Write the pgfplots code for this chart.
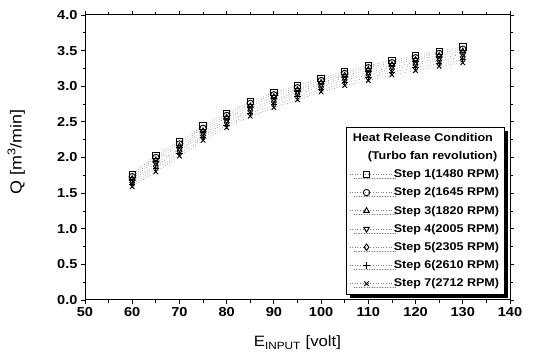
\documentclass[border=0pt]{standalone}
\usepackage{pgfplots}
\pgfplotsset{compat=1.18}
\usepackage{fontspec}
\setmainfont{Liberation Sans}[FakeStretch=1.12]
\usetikzlibrary{shadows}
\begin{document}
\begin{tikzpicture}
\useasboundingbox (-85pt,-58pt) rectangle (452pt,300pt);
\begin{axis}[
  scale only axis,
  width=425pt, height=285pt,
  xmin=50, xmax=140, ymin=0, ymax=4,
  xtick={50,60,...,140},
  ytick={0,0.5,...,4},
  minor x tick num=1,
  minor y tick num=1,
  tick align=outside,
  major tick length=4pt,
  minor tick length=2.5pt,
  tick style={black, line width=0.8pt},
  axis line style={line width=1pt},
  /pgf/number format/assume math mode=true,
  /pgf/number format/fixed,
  /pgf/number format/fixed zerofill,
  yticklabel style={/pgf/number format/precision=1},
  xticklabel style={/pgf/number format/precision=0},
  ticklabel style={font=\fontsize{13}{15}\selectfont\bfseries},
  xlabel={E\textsubscript{INPUT} [volt]},
  ylabel={Q [m\textsuperscript{3}/min]},
  every axis y label/.style={at={(axis description cs:-0.162,0.52)},rotate=90,anchor=center,font=\fontsize{16}{18}\selectfont},
  every axis x label/.style={at={(axis description cs:0.5,-0.151)},anchor=center,font=\fontsize{15}{18}\selectfont},
  legend cell align=left,
  legend style={at={(axis description cs:0.987,0.018)}, anchor=south east,
    font=\fontsize{11.2}{13}\selectfont\bfseries,
    draw=black, line width=0.8pt, fill=white,
    drop shadow={shadow xshift=4pt, shadow yshift=-4pt, fill=black, opacity=1},
    row sep=4.6pt, inner xsep=3pt, inner ysep=4pt},
  every axis plot/.append style={gray, dotted, line width=0.6pt, mark size=3.2pt, mark options={solid, line width=0.9pt, black},
    legend image code/.code={%
    \draw[mark repeat=2,mark phase=2,#1] plot coordinates {(0pt,0pt) (17pt,0pt) (42pt,0pt)};}},
]
\addlegendimage{empty legend}
\addlegendentry{\hspace*{-41pt}Heat Release Condition}
\addlegendimage{empty legend}
\addlegendentry{\hspace*{-26pt}(Turbo fan revolution)}

\addplot[mark=square] coordinates {(60,1.76) (65,2.03) (70,2.22) (75,2.44) (80,2.62) (85,2.79) (90,2.91) (95,3.01) (100,3.11) (105,3.21) (110,3.29) (115,3.36) (120,3.43) (125,3.49) (130,3.55)};
\addlegendentry{Step 1(1480 RPM)}
\addplot[mark=o] coordinates {(60,1.73) (65,2.00) (70,2.19) (75,2.41) (80,2.59) (85,2.76) (90,2.88) (95,2.98) (100,3.08) (105,3.18) (110,3.26) (115,3.33) (120,3.40) (125,3.46) (130,3.52)};
\addlegendentry{Step 2(1645 RPM)}
\addplot[mark=triangle] coordinates {(60,1.70) (65,1.96) (70,2.16) (75,2.37) (80,2.56) (85,2.72) (90,2.85) (95,2.95) (100,3.05) (105,3.15) (110,3.23) (115,3.30) (120,3.37) (125,3.43) (130,3.49)};
\addlegendentry{Step 3(1820 RPM)}
\addplot[mark=triangle, mark options={solid, line width=0.9pt, black, rotate=180}] coordinates {(60,1.67) (65,1.92) (70,2.12) (75,2.34) (80,2.52) (85,2.69) (90,2.81) (95,2.92) (100,3.02) (105,3.12) (110,3.19) (115,3.27) (120,3.33) (125,3.39) (130,3.45)};
\addlegendentry{Step 4(2005 RPM)}
\addplot[mark=diamond] coordinates {(60,1.65) (65,1.88) (70,2.09) (75,2.31) (80,2.49) (85,2.66) (90,2.78) (95,2.89) (100,2.99) (105,3.09) (110,3.16) (115,3.24) (120,3.30) (125,3.36) (130,3.41)};
\addlegendentry{Step 5(2305 RPM)}
\addplot[mark=+] coordinates {(60,1.62) (65,1.84) (70,2.05) (75,2.28) (80,2.45) (85,2.62) (90,2.74) (95,2.85) (100,2.95) (105,3.05) (110,3.12) (115,3.20) (120,3.26) (125,3.32) (130,3.37)};
\addlegendentry{Step 6(2610 RPM)}
\addplot[mark=x] coordinates {(60,1.59) (65,1.80) (70,2.02) (75,2.24) (80,2.42) (85,2.58) (90,2.70) (95,2.81) (100,2.92) (105,3.01) (110,3.08) (115,3.16) (120,3.22) (125,3.28) (130,3.33)};
\addlegendentry{Step 7(2712 RPM)}
\end{axis}
\end{tikzpicture}
\end{document}
